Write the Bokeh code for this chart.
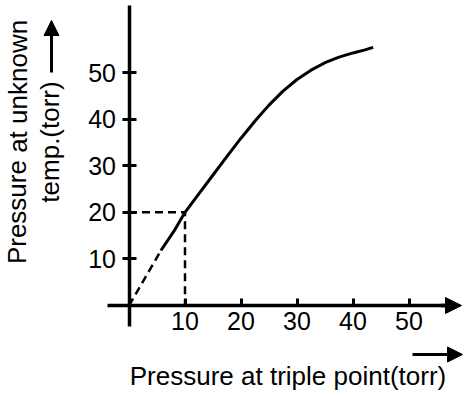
from bokeh.plotting import figure
from bokeh.models import LinearAxis, FixedTicker, Range1d, Label, Arrow, NormalHead
from bokeh.embed import file_html
from bokeh.resources import INLINE

# ---------------- data ----------------
x_ticks = [10, 20, 30, 40, 50]
x_tick_labels = ["10", "20", "30", "40", "50"]
y_ticks = [10, 20, 30, 40, 50]
y_tick_labels = ["10", "20", "30", "40", "50"]

# extrapolated (dashed) part of the curve, down to the origin
extrap_x = [0, 5.7]
extrap_y = [0, 11.8]
# measured (solid) part of the curve
curve_x = [5.7, 8.0, 10.0, 12.5, 15.0, 17.5, 20.0, 22.5, 25.0, 27.5, 30.0,
           32.5, 35.0, 37.5, 40.0, 42.0, 43.6]
curve_y = [11.8, 15.9, 20.0, 24.0, 28.0, 32.0, 35.9, 39.6, 43.0, 46.0, 48.5,
           50.5, 52.1, 53.3, 54.2, 54.8, 55.4]
# marked reading
marked_x = 10
marked_y = 20

x_title = "Pressure at triple point(torr)"
y_title_1 = "Pressure at unknown"
y_title_2 = "temp.(torr)"

# ---------------- layout helpers (page pixels -> data) ----------------
W, H = 474, 396
X0, SX = 128.5, 5.6
Y0, SY = 305.0, 4.66


def X(px):
    return (px - X0) / SX


def Y(py):
    return (Y0 - py) / SY


FONT = "Liberation Sans"

p = figure(width=W, height=H,
           x_range=Range1d(X(0), X(W)),
           y_range=Range1d(Y(H), Y(0)),
           output_backend="svg", toolbar_location=None,
           x_axis_location=None, y_axis_location=None,
           min_border=0, outline_line_color=None,
           background_fill_color="white", border_fill_color="white")
p.grid.visible = False

# ---------------- axes ----------------
xaxis = LinearAxis(fixed_location=0,
                   ticker=FixedTicker(ticks=x_ticks),
                   major_label_overrides=dict(zip(x_ticks, x_tick_labels)),
                   bounds=(X(107), X(446)))
xaxis.axis_line_width = 3.5
xaxis.axis_line_color = "black"
xaxis.major_tick_line_width = 3
xaxis.major_tick_line_color = "black"
xaxis.major_tick_in = 7
xaxis.major_tick_out = 0
xaxis.minor_tick_line_color = None
xaxis.major_label_text_font = FONT
xaxis.major_label_text_font_size = "25px"
xaxis.major_label_text_color = "black"
xaxis.major_label_standoff = 6
p.add_layout(xaxis, "below")

yaxis = LinearAxis(fixed_location=0,
                   ticker=FixedTicker(ticks=y_ticks),
                   major_label_overrides=dict(zip(y_ticks, y_tick_labels)),
                   bounds=(Y(326), Y(5)))
yaxis.axis_line_width = 3.5
yaxis.axis_line_color = "black"
yaxis.major_tick_line_width = 3
yaxis.major_tick_line_color = "black"
yaxis.major_tick_in = 7
yaxis.major_tick_out = 7
yaxis.minor_tick_line_color = None
yaxis.major_label_text_font = FONT
yaxis.major_label_text_font_size = "25px"
yaxis.major_label_text_color = "black"
yaxis.major_label_standoff = 6
p.add_layout(yaxis, "left")

# x axis arrow head
p.add_layout(Arrow(end=NormalHead(size=16, fill_color="black", line_color="black", line_width=1),
                   x_start=X(440), y_start=0, x_end=X(461), y_end=0,
                   line_width=3.5, line_color="black"))

# ---------------- data marks ----------------
p.line([0, marked_x, marked_x], [marked_y, marked_y, 0],
       line_color="black", line_width=2.5, line_dash="8 5")
p.line(extrap_x, extrap_y, line_color="black", line_width=2.5, line_dash="8 5")
p.line(curve_x, curve_y, line_color="black", line_width=3, line_join="round")

# ---------------- titles ----------------
p.add_layout(Label(x=X(287.5), y=Y(375), text=x_title,
                   text_align="center", text_baseline="alphabetic",
                   text_font=FONT, text_font_size="26px", text_color="black"))
p.add_layout(Arrow(end=NormalHead(size=15, fill_color="black", line_color="black", line_width=1),
                   x_start=X(412), y_start=Y(354), x_end=X(462), y_end=Y(354),
                   line_width=3, line_color="black"))

p.add_layout(Label(x=X(17), y=Y(141.5), text=y_title_1, angle=1.5707963,
                   text_align="center", text_baseline="middle",
                   text_font=FONT, text_font_size="26px", text_color="black"))
p.add_layout(Label(x=X(49), y=Y(141.5), text=y_title_2, angle=1.5707963,
                   text_align="center", text_baseline="middle",
                   text_font=FONT, text_font_size="26px", text_color="black"))
p.add_layout(Arrow(end=NormalHead(size=15, fill_color="black", line_color="black", line_width=1),
                   x_start=X(51), y_start=Y(72), x_end=X(51), y_end=Y(20),
                   line_width=3, line_color="black"))

open("out.html", "w").write(file_html(p, INLINE))
